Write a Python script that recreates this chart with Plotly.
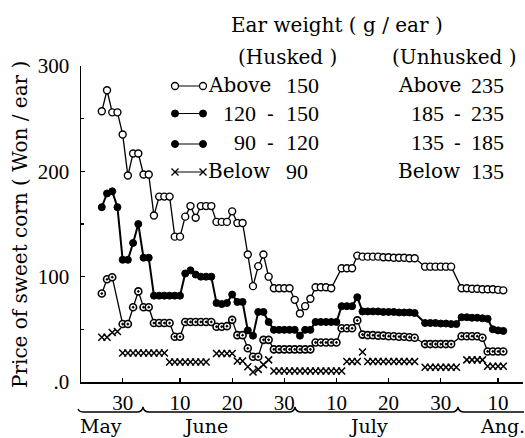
import datetime as dt
import plotly.graph_objects as go

# ---------------- data (day offsets from May 30, price in Won/ear) ----------------
base_date = dt.date(1986, 5, 30)

s1_days = [-4, -3, -2, -1, 0, 1, 2, 3, 4, 5, 6, 7, 8, 9, 10, 11, 12, 13, 14, 15, 16, 17, 18, 19, 20,
           21, 22, 23, 24, 25, 26, 27, 28, 29, 30, 31, 32, 33, 34, 35, 36, 37, 38, 39, 40,
           42, 43, 44, 45, 46, 47, 48, 49, 50, 51, 52, 53, 54, 55, 56,
           58, 59, 60, 61, 62, 63, 65, 66, 67, 68, 69, 70, 71, 72, 73]
s1_vals = [257, 277, 256, 256, 235, 196, 217, 217, 197, 197, 158, 176, 176, 176, 138, 138, 157, 167, 156, 167,
           167, 167, 152, 152, 152, 162, 151, 151, 121, 91, 110, 121, 100, 89, 89, 89, 89, 78, 65, 72, 79,
           90, 90, 90, 89,
           108, 108, 108, 120, 119, 119, 119, 119, 118.5, 118.5, 118, 118, 118, 117.5, 117.5,
           109.5, 109.5, 109.5, 109.5, 109.5, 109.5, 89, 89, 88.5, 88.5, 88, 88, 88, 87.5, 87]

s2_days = [-4, -3, -2, -1, 0, 1, 2, 3, 4, 5, 6, 7, 8, 9, 10, 11, 12, 13, 14, 15, 16, 17, 18, 19, 20,
           21, 22, 23, 24, 25, 26, 27, 28, 29, 30, 31, 32, 33, 34, 35, 36, 37, 38, 39, 40, 41,
           42, 43, 44, 45, 46, 47, 48, 49, 50, 51, 52, 53, 54, 55, 56,
           58, 59, 60, 61, 62, 63, 64, 65, 66, 67, 68, 69, 70, 71, 72, 73]
s2_vals = [166, 179, 181, 166, 116, 116, 132, 150, 118, 118, 82, 82, 82, 82, 82, 82, 103, 106, 102, 100,
           100, 100, 75, 74, 75, 83, 76, 76, 49, 44, 66.5, 66.5, 57, 49.5, 49.5, 49.5, 49.5, 49.5, 44, 49.5,
           49.5, 57, 57, 57, 57, 57,
           72, 72, 72, 80.5, 67, 67, 67, 67, 66.5, 66.5, 66.5, 66, 66, 66, 65.5,
           56, 56, 56, 55.5, 55.5, 55, 55, 61.5, 61.5, 61, 61, 60.5, 60, 50, 49, 48.5]

s3_days = [-4, -3, -2, 0, 1, 2, 3, 4, 5, 6, 7, 8, 9, 10, 11, 12, 13, 14, 15, 16, 17, 18, 19, 20,
           21, 22, 23, 24, 25, 26, 27, 28, 29, 30, 31, 32, 33, 34, 35, 36, 37, 38, 39, 40, 41,
           42, 43, 44, 45, 46, 47, 48, 49, 50, 51, 52, 53, 54, 55, 56,
           58, 59, 60, 61, 62, 63, 65, 66, 67, 68, 69, 70, 71, 72, 73]
s3_vals = [84, 97.5, 99.5, 55, 55, 71, 86, 71, 71, 56, 56, 56, 56, 43, 43, 57, 57, 57, 57, 57, 57,
           52.5, 52.5, 53, 59, 44.5, 44.5, 32, 24, 24, 40, 40, 31, 31, 31, 31, 31, 31, 31, 31,
           37.5, 37.5, 37.5, 37.5, 37.5,
           51, 51, 51, 58.5, 45, 44.5, 44.5, 44, 44, 43.5, 43.5, 43, 43, 42.5, 42,
           36, 36, 36, 36, 36, 36, 43.5, 43.5, 43.5, 43.5, 42, 29, 29, 29, 29]

s4_days = [-4, -3, -2, -1, 0, 1, 2, 3, 4, 5, 6, 7, 8, 9, 10, 11, 12, 13, 14, 15, 16,
           18, 19, 20, 21, 22, 23, 24, 25, 26, 27, 28,
           29, 30, 31, 32, 33, 34, 35, 36, 37, 38, 39, 40, 41, 42,
           43, 44, 45, 46, 47, 48, 49, 50, 51, 52, 53, 54, 55, 56,
           58, 59, 60, 61, 62, 63, 64, 66, 67, 68, 69, 70, 71, 72, 73]
s4_vals = [42.5, 42.5, 47, 48, 27.5, 27.5, 27.5, 27.5, 27.5, 27.5, 27.5, 27.5, 27.5,
           19, 19, 19, 19, 19, 19, 19, 19,
           27, 27, 27, 27, 20, 20, 14.5, 9.5, 12, 16.5, 21,
           10.5, 10.5, 10.5, 10.5, 10.5, 10.5, 10.5, 10.5, 10.5, 10.5, 10.5, 10.5, 10.5, 10.5,
           19.5, 19.5, 19.5, 28.5, 19.5, 19.5, 19.5, 19.5, 19.5, 19.5, 19.5, 19.5, 19.5, 19.5,
           14, 14, 14, 14, 14, 14, 14, 21, 21, 21, 21, 15, 15, 15, 15]

tick_dates = ["1986-05-30", "1986-06-10", "1986-06-20", "1986-06-30",
              "1986-07-10", "1986-07-20", "1986-07-30", "1986-08-10"]
tick_text = ["30", "10", "20", "30", "10", "20", "30", "10"]
y_tickvals = [0, 100, 200, 300]
y_ticktext = [".0", "100", "200", "300"]

months = ["May", "June", "July", "Ang."]
husked = [("Above", "", "150"), ("", "120", "150"), ("", "90", "120"), ("Below", "", "90")]
unhusked = [("Above", "", "235"), ("", "185", "235"), ("", "135", "185"), ("Below", "", "135")]

# ---------------- layout geometry (pixels) ----------------
W_FIG, H_FIG = 525, 438
L, R, T, B = 81, 2, 66, 56
PW, PH = W_FIG - L - R, H_FIG - T - B
X0, Y0 = L, T + PH  # pixel of plot left / bottom


def P(px, py):
    return (px - L) / PW, (Y0 - py) / PH


def dates(days):
    return [base_date + dt.timedelta(days=d) for d in days]


SERIF = "DejaVu Serif"
NUMF = "Liberation Serif"

fig = go.Figure()

fig.add_trace(go.Scatter(x=dates(s4_days), y=s4_vals, mode="markers", cliponaxis=False,
                         marker=dict(symbol="x-thin-open", size=7, color="black",
                                     line=dict(color="black", width=1.5)),
                         showlegend=False))
fig.add_trace(go.Scatter(x=dates(s3_days), y=s3_vals, mode="lines+markers", cliponaxis=False,
                         line=dict(color="black", width=1.3),
                         marker=dict(symbol="circle-dot", size=7, color="white",
                                     line=dict(color="black", width=1.6)),
                         showlegend=False))
fig.add_trace(go.Scatter(x=dates(s2_days), y=s2_vals, mode="lines+markers", cliponaxis=False,
                         line=dict(color="black", width=2),
                         marker=dict(symbol="circle", size=7, color="black",
                                     line=dict(color="black", width=1)),
                         showlegend=False))
fig.add_trace(go.Scatter(x=dates(s1_days), y=s1_vals, mode="lines+markers", cliponaxis=False,
                         line=dict(color="black", width=1.3),
                         marker=dict(symbol="circle", size=7, color="white",
                                     line=dict(color="black", width=1.4)),
                         showlegend=False))

# legend samples on a pixel-space overlay axis
leg_rows_y = [86, 113.5, 144, 172]
leg_styles = [
    dict(symbol="circle", size=7, color="white", line=dict(color="black", width=1.3)),
    dict(symbol="circle", size=7, color="black", line=dict(color="black", width=1)),
    dict(symbol="circle", size=7, color="black", line=dict(color="black", width=1)),
    dict(symbol="x-thin-open", size=7, color="black", line=dict(color="black", width=1.4)),
]
for yy, ms in zip(leg_rows_y, leg_styles):
    fig.add_trace(go.Scatter(x=[175, 203], y=[yy, yy], xaxis="x2", yaxis="y2",
                             mode="lines+markers", cliponaxis=False,
                             line=dict(color="black", width=1), marker=ms, showlegend=False))

ann = []


def text(px, py, s, size=20, xanchor="center", font=SERIF, angle=0):
    x, y = P(px, py)
    ann.append(dict(x=x, y=y, xref="paper", yref="paper", text=s, showarrow=False,
                    xanchor=xanchor, yanchor="middle", textangle=angle, borderpad=0,
                    font=dict(family=font, size=size, color="black")))


text(337, 25, "Ear weight ( g / ear )")
text(287, 57, "(Husked )")
text(454, 57, "(Unhusked )")
text_rows = [85, 113.5, 142.5, 171]
for yy, (w, a, b) in zip(text_rows, husked):
    if w:
        text(207, yy, w, xanchor="left")
    else:
        text(257, yy, a, xanchor="right", size=22, font=NUMF)
        text(270, yy, "-")
    text(285, yy, b, xanchor="left", size=22, font=NUMF)
for yy, (w, a, b) in zip(text_rows, unhusked):
    if w:
        text(397, yy, w, xanchor="left")
    else:
        text(445, yy, a, xanchor="right", size=22, font=NUMF)
        text(457, yy, "-")
    text(505, yy, b, xanchor="right", size=22, font=NUMF)

text(20, 225, "Price of sweet corn ( Won / ear )", angle=-90)
for px, m in zip([101, 205, 368, 502], months):
    text(px, 426, m, size=19)

# month braces below the axis
by = 412
cusps = [143, 295, 458]
path = f"M {P(78, by - 3)[0]},{P(78, by - 3)[1]} Q {P(79, by)[0]},{P(79, by)[1]} {P(84, by)[0]},{P(84, by)[1]}"
for cx in cusps:
    pts = [(cx - 6, by), (cx - 1, by), (cx, by - 5), (cx + 1, by), (cx + 6, by)]
    pp = [P(a, b) for a, b in pts]
    path += f" L {pp[0][0]},{pp[0][1]} Q {pp[1][0]},{pp[1][1]} {pp[2][0]},{pp[2][1]}"
    path += f" Q {pp[3][0]},{pp[3][1]} {pp[4][0]},{pp[4][1]}"
pe = P(524, by)
path += f" L {pe[0]},{pe[1]}"
shapes = [dict(type="path", path=path, xref="paper", yref="paper",
               line=dict(color="black", width=1.3))]

fig.update_layout(
    width=W_FIG, height=H_FIG,
    margin=dict(l=L, r=R, t=T, b=B, pad=0),
    paper_bgcolor="white", plot_bgcolor="white",
    showlegend=False,
    annotations=ann, shapes=shapes,
    xaxis=dict(type="date", range=["1986-05-22 00:15", "1986-08-14 18:43"],
               showgrid=False, zeroline=False, showline=True, linecolor="black", linewidth=1.5,
               ticks="inside", ticklen=4, tickwidth=1.3, tickcolor="black",
               tickvals=tick_dates, ticktext=tick_text, ticklabelstandoff=1,
               automargin=False,
               tickfont=dict(family=NUMF, size=21, color="black")),
    yaxis=dict(range=[0, 300], showgrid=False, zeroline=False, showline=True,
               linecolor="black", linewidth=1.5,
               ticks="inside", ticklen=4, tickwidth=1.3, tickcolor="black",
               tickvals=y_tickvals, ticktext=y_ticktext, ticklabelstandoff=6,
               automargin=False,
               minor=dict(tickvals=[50, 150, 250], ticks="inside", ticklen=3, tickcolor="black"),
               tickfont=dict(family=NUMF, size=21, color="black")),
    xaxis2=dict(overlaying="x", anchor="y2", range=[L, L + PW], visible=False, fixedrange=True),
    yaxis2=dict(overlaying="y", anchor="x2", range=[Y0, T], visible=False, fixedrange=True),
)

fig.write_html("out.html", config={"displayModeBar": False, "staticPlot": True},
               post_script="document.body.style.margin='0';document.body.style.overflow='hidden';")
